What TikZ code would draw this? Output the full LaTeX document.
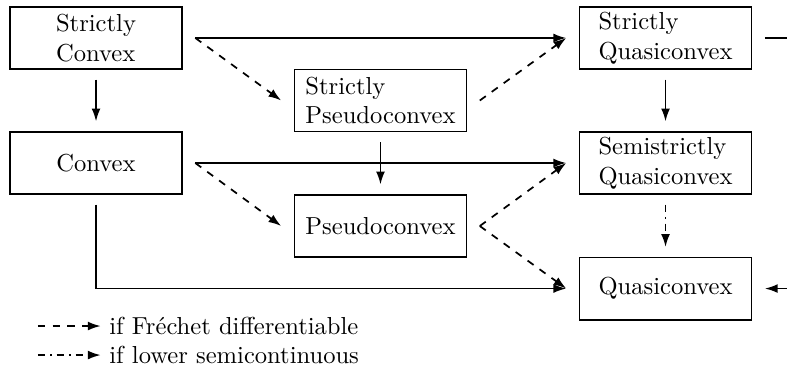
\documentclass[tikz,border=0pt]{standalone}
\usepackage{fontspec}
\usetikzlibrary{arrows.meta}
\begin{document}
\begin{tikzpicture}[
			box/.style={rectangle,draw,line width=0.7pt,align=left,inner ysep=2pt,minimum width=2.46cm,minimum height=0.89cm,outer xsep=0.19cm,outer ysep=0.15cm},
			implies/.style={-{Latex[length=5.2pt,width=3.6pt]},line width=0.7pt},
			frechet/.style={implies,dashed},
			lsc/.style={implies,dashdotted}
		]
		\useasboundingbox (0,0) rectangle (11.254,-5.348);
		% left column
		\node[box] (sconv) at (1.373,-0.543) {Strictly\\Convex};
		\node[box] (conv) at (1.373,-2.331) {Convex};
		% middle column
		\node[box] (spseudo) at (5.441,-1.437) {Strictly\\Pseudoconvex};
		\node[box] (pseudo) at (5.441,-3.232) {Pseudoconvex};
		% right column
		\node[box] (squasi) at (9.517,-0.543) {Strictly\\Quasiconvex};
		\node[box] (semiq) at (9.517,-2.331) {Semistrictly\\Quasiconvex};
		\node[box] (quasi) at (9.517,-4.126) {Quasiconvex};
		\coordinate (sqout) at (11.254,-0.543);
		\coordinate (qin) at (11.254,-4.126);

		\draw[implies] (sconv.east) -- (squasi.west);
		\draw[implies] (sconv.south) -- (conv.north);
		\draw[frechet] (sconv.east) -- (spseudo.west);
		\draw[frechet] (spseudo.east) -- (squasi.west);
		\draw[implies] (spseudo.south) -- (pseudo.north);
		\draw[implies] (conv.east) -- (semiq.west);
		\draw[frechet] (conv.east) -- (pseudo.west);
		\draw[frechet] (pseudo.east) -- (semiq.west);
		\draw[frechet] (pseudo.east) -- (quasi.west);
		\draw[implies] (squasi.south) -- (semiq.north);
		\draw[lsc] (semiq.south) -- (quasi.north);
		\draw[implies] (conv.south) |- (quasi.west);
		\draw[line width=0.7pt] (squasi.east) -- (sqout);
		\draw[implies] (qin) -- (quasi.east);

		% legend
		\coordinate (fr) at (0.54,-4.662);
		\node[right] (frtext) at (1.44,-4.662) {if Fréchet differentiable};
		\draw[frechet] (fr) -- (frtext.west);
		\coordinate (ls) at (0.54,-5.077);
		\node[right] (lstext) at (1.44,-5.077) {if lower semicontinuous};
		\draw[lsc] (ls) -- (lstext.west);
	\end{tikzpicture}
\end{document}
